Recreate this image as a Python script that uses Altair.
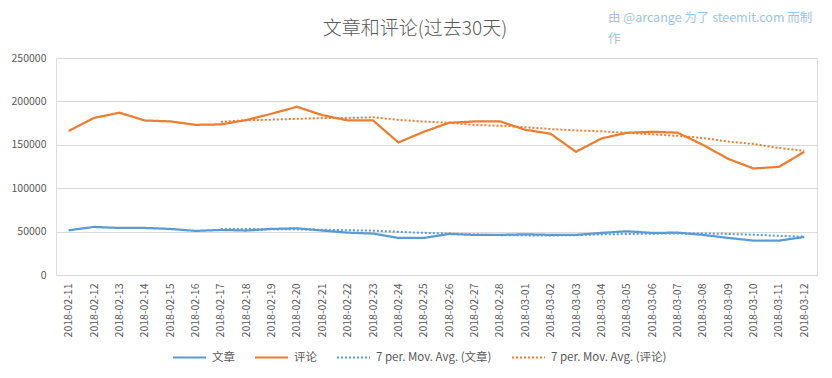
import altair as alt
import pandas as pd

dates = [
    "2018-02-11", "2018-02-12", "2018-02-13", "2018-02-14", "2018-02-15", "2018-02-16",
    "2018-02-17", "2018-02-18", "2018-02-19", "2018-02-20", "2018-02-21", "2018-02-22",
    "2018-02-23", "2018-02-24", "2018-02-25", "2018-02-26", "2018-02-27", "2018-02-28",
    "2018-03-01", "2018-03-02", "2018-03-03", "2018-03-04", "2018-03-05", "2018-03-06",
    "2018-03-07", "2018-03-08", "2018-03-09", "2018-03-10", "2018-03-11", "2018-03-12",
]
posts = [
    51500, 55400, 54200, 54200, 53100, 50800, 51900, 51200, 53100, 53800,
    51200, 48800, 47700, 42700, 42700, 47300, 46200, 46200, 46900, 46200,
    46200, 48500, 50400, 48500, 48800, 46200, 42700, 39600, 39600, 43800,
]
comments = [
    166000, 181000, 187000, 178000, 177000, 173000, 173500, 178500, 185800, 193800,
    184200, 178100, 178000, 152700, 165000, 175400, 176900, 177000, 167300, 162700,
    141900, 157300, 163800, 165000, 164000, 150000, 133800, 122700, 124600, 141900,
]
series_names = ["文章", "评论"]
legend_labels = ["文章", "评论", "7 per. Mov. Avg. (文章)", "7 per. Mov. Avg. (评论)"]
y_ticks = [0, 50000, 100000, 150000, 200000, 250000]
title_text = "文章和评论(过去30天)"
credit_lines = ["由 @arcange 为了 steemit.com 而制", "作"]

rows = []
for name, vals in zip(series_names, [posts, comments]):
    for d, v in zip(dates, vals):
        rows.append({"date": d, "value": v, "series": name})
df = pd.DataFrame(rows)

FONT = "Noto Sans CJK SC"
GREY = "#595959"
BLUE = "#5B9BD5"
ORANGE = "#ED7D31"

color_scale = alt.Scale(domain=legend_labels, range=[BLUE, ORANGE, BLUE, ORANGE])
dash_scale = alt.Scale(domain=legend_labels, range=[[1, 0], [1, 0], [2, 2], [2, 2]])

legend = alt.Legend(
    title=None, orient="none", legendX=116, legendY=282, direction="horizontal",
    columns=4, symbolType="stroke", symbolSize=1089, symbolStrokeWidth=2,
    labelFontSize=11.5, labelColor=GREY, labelFont=FONT, columnPadding=16, labelOffset=5,
)

x_enc = alt.X(
    "date:O", title=None,
    axis=alt.Axis(labelAngle=270, labelFontSize=10.5, labelColor=GREY, labelFont=FONT,
                  ticks=False, domain=False, labelPadding=8, labelAlign="right",
                  labelBaseline="middle"),
)

base = alt.Chart(df)

raw = base.transform_calculate(label="datum.series").mark_line(strokeWidth=2.25).encode(
    x=x_enc,
    y=alt.Y("value:Q", title=None, scale=alt.Scale(domain=[0, 250000], nice=False),
            axis=alt.Axis(values=y_ticks, format="d", labelFontSize=10.5, labelColor=GREY,
                          labelFont=FONT, ticks=False, domain=False, gridColor="#D9D9D9",
                          labelPadding=10)),
    color=alt.Color("label:N", scale=color_scale, legend=legend),
    strokeDash=alt.StrokeDash("label:N", scale=dash_scale, legend=legend),
)

ma = base.transform_window(
    window=[alt.WindowFieldDef(op="mean", field="value", **{"as": "ma"}),
            alt.WindowFieldDef(op="row_number", **{"as": "rn"})],
    frame=[-6, 0], groupby=["series"], sort=[alt.SortField("date")],
).transform_filter("datum.rn >= 7").transform_calculate(
    label='"7 per. Mov. Avg. (" + datum.series + ")"'
).mark_line(strokeWidth=2).encode(
    x=x_enc,
    y=alt.Y("ma:Q", title=None),
    color=alt.Color("label:N", scale=color_scale, legend=legend),
    strokeDash=alt.StrokeDash("label:N", scale=dash_scale, legend=legend),
)

credit = alt.Chart(alt.Data(values=[{}])).mark_text(
    text=credit_lines, align="left", baseline="middle", font=FONT, fontSize=12.5,
    color="#9DC3E6", lineHeight=21,
).encode(x=alt.value(552), y=alt.value(-40))

title = alt.Chart(alt.Data(values=[{}])).mark_text(
    text=title_text, align="center", baseline="middle", font=FONT, fontSize=19,
    fontWeight=300, color=GREY,
).encode(x=alt.value(359), y=alt.value(-29))

chart = alt.layer(raw, ma, credit, title).properties(
    width=761, height=217,
    autosize=alt.AutoSizeParams(type="none"),
    padding={"left": 48, "top": 50, "right": 7, "bottom": 95},
).configure_view(stroke=None).configure(background="white")

chart.save("out.html", embed_options={"renderer": "svg", "actions": False})
